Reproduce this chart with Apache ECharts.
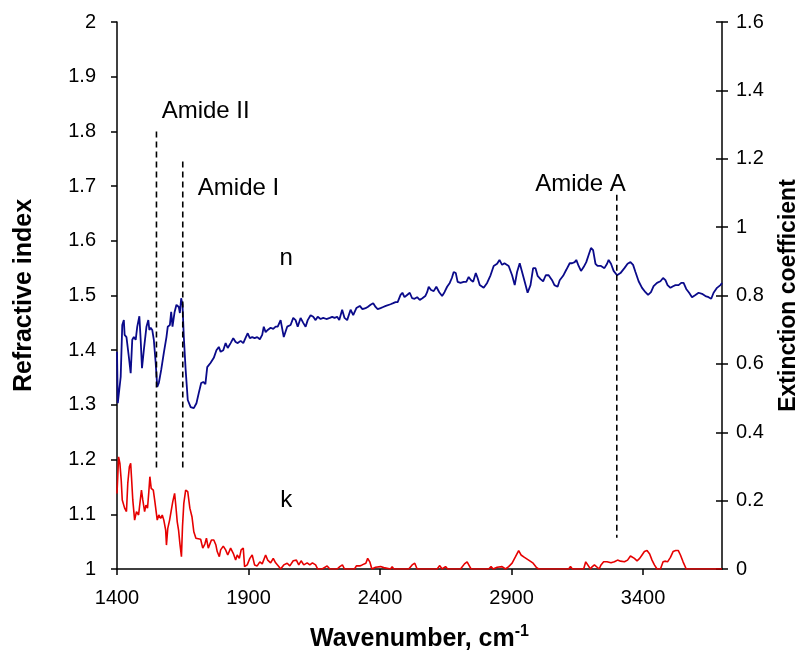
<!DOCTYPE html>
<html>
<head>
<meta charset="utf-8">
<script src="https://cdn.jsdelivr.net/npm/echarts@6/dist/echarts.min.js"></script>
<style>
html,body{margin:0;padding:0;background:#fff;}
#chart{width:802px;height:655px;}
</style>
</head>
<body>
<div id="chart"></div>
<script>
// Refractive index n vs wavenumber
const nWave = [1400,1403,1414,1420,1426,1429,1436,1445,1452,1458,1464,1471,1477,1485,1490,1495,1502,1512,1519,1523,1528,1534,1540,1547,1553,1559,1568,1578,1588,1593,1601,1606,1611,1619,1626,1635,1639,1644,1649,1654,1661,1669,1680,1692,1702,1711,1720,1728,1736,1743,1756,1768,1778,1787,
1794,1804,1813,1821,1832,1842,1851,1859,1870,1880,1890,1897,1905,1914,1923,1933,1943,1952,1958,1965,1973,1984,1994,2003,2011,
2022,2034,2047,2060,2070,2079,2087,2098,2108,2117,2125,2136,2146,2155,2163,2174,2184,2196,2209,2218,2227,2237,2245,2256,2265,2275,2288,2298,2310,2323,2333,2345,2353,2364,2374,2383,2391,2402,2412,2422,2429,2440,2450,2459,2467,2478,2485,2493,2503,2513,2522,2531,2541,2551,2561,2572,2579,2585,2594,2604,2614,2625,2636,2645,2655,2665,2673,2680,2688,2695,2706,2718,2728,2737,2746,2754,2764,2771,2779,
2794,2807,2820,2832,2845,2854,2864,2873,2880,2889,2902,2912,2921,2931,2940,2950,2961,2972,2982,2991,2999,3010,3020,3030,3041,3054,3063,3075,3083,3096,3108,3121,3130,3140,3146,3155,3164,3174,3184,3193,3202,3210,3219,3227,3240,3253,3263,3269,3278,3288,3301,3314,3329,3341,3352,3362,3371,3383,3396,3409,3419,3430,3440,3453,3466,3476,3485,3493,3504,3514,3523,3535,3545,3554,3564,3575,3586,3599,3611,3624,3637,3649,3659,3668,3681,3694,3700];
const nVal = [1.397,1.303,1.351,1.446,1.455,1.428,1.424,1.388,1.358,1.419,1.424,1.419,1.443,1.462,1.419,1.367,1.400,1.443,1.455,1.437,1.441,1.437,1.419,1.377,1.333,1.340,1.364,1.395,1.424,1.443,1.446,1.470,1.443,1.470,1.483,1.479,1.468,1.495,1.483,1.424,1.364,1.309,1.296,1.294,1.303,1.322,1.340,1.342,1.338,1.369,1.377,1.386,1.400,1.406,
1.397,1.400,1.413,1.404,1.413,1.422,1.415,1.413,1.417,1.413,1.424,1.431,1.422,1.424,1.422,1.424,1.420,1.428,1.443,1.433,1.437,1.441,1.439,1.443,1.443,
1.455,1.424,1.443,1.446,1.459,1.455,1.443,1.459,1.450,1.443,1.455,1.464,1.461,1.455,1.461,1.457,1.459,1.457,1.459,1.461,1.459,1.461,1.455,1.474,1.459,1.455,1.474,1.464,1.477,1.481,1.475,1.477,1.479,1.483,1.486,1.479,1.475,1.477,1.479,1.481,1.479,1.484,1.486,1.488,1.488,1.501,1.505,1.497,1.501,1.505,1.495,1.494,1.497,1.492,1.495,1.499,1.506,1.516,1.510,1.508,1.516,1.506,1.499,1.506,1.516,1.523,1.532,1.543,1.541,1.525,1.523,1.525,1.525,1.534,1.528,1.525,1.541,1.532,1.519,
1.514,1.523,1.537,1.554,1.558,1.565,1.556,1.559,1.561,1.554,1.537,1.519,1.543,1.559,1.543,1.525,1.505,1.519,1.550,1.550,1.536,1.530,1.526,1.537,1.537,1.528,1.519,1.516,1.528,1.536,1.547,1.559,1.559,1.561,1.565,1.554,1.545,1.552,1.561,1.574,1.587,1.583,1.558,1.554,1.554,1.550,1.558,1.565,1.558,1.545,1.537,1.541,1.550,1.558,1.561,1.556,1.543,1.526,1.514,1.506,1.501,1.506,1.517,1.523,1.526,1.532,1.528,1.519,1.514,1.517,1.519,1.519,1.523,1.523,1.512,1.505,1.497,1.501,1.505,1.503,1.499,1.497,1.494,1.505,1.514,1.519,1.523];

// Extinction coefficient k vs wavenumber
const kWave = [1400,1406,1411,1416,1420,1424,1429,1436,1441,1447,1452,1455,1460,1467,1474,1482,1487,1493,1498,1505,1510,1516,1521,1525,1530,1538,1544,1553,1559,1566,1572,1578,1585,1588,1593,1600,1606,1612,1619,1624,1629,1634,1639,1645,1649,1654,1661,1669,1677,1685,1692,1700,1707,1718,1726,1734,1740,1747,1753,1759,1768,1776,1781,1789,1794,
1804,1813,1821,1832,1842,1851,1857,1865,1872,1880,1885,1895,1905,1914,1923,1933,1943,1952,1965,1973,1984,1994,2003,2015,
2022,2034,2047,2057,2070,2082,2091,2100,2110,2123,2133,2143,2155,2163,2180,2199,2209,2237,2247,2257,2265,2303,2310,2323,2332,2338,2346,2353,2361,2369,2383,2402,2414,2440,2446,2452,2509,2522,2532,2541,2617,2627,2636,2649,2657,2706,2721,2731,2741,2746,2813,2822,2830,2845,2864,2877,2889,2902,2915,2927,2936,2949,2965,2982,2994,3003,3117,3124,3131,3174,3182,3189,3200,3207,3215,3222,3233,3240,3250,3263,3278,3291,3303,3314,3329,3341,3352,3359,3367,3377,3387,3396,3405,3415,3425,3434,3443,3453,3466,3476,3485,3493,3504,3514,3524,3534,3542,3552,3564,3700];
const kVal = [0.221,0.328,0.309,0.260,0.202,0.207,0.178,0.168,0.251,0.299,0.309,0.270,0.202,0.143,0.168,0.158,0.153,0.231,0.202,0.168,0.187,0.178,0.226,0.270,0.236,0.231,0.197,0.143,0.158,0.148,0.158,0.143,0.114,0.070,0.119,0.143,0.148,0.197,0.221,0.182,0.138,0.114,0.075,0.036,0.124,0.192,0.231,0.226,0.178,0.153,0.109,0.090,0.093,0.087,0.061,0.073,0.090,0.061,0.056,0.085,0.085,0.070,0.051,0.036,0.056,
0.067,0.056,0.041,0.061,0.046,0.026,0.041,0.031,0.056,0.061,0.007,0.012,0.031,0.041,0.012,0.009,0.021,0.015,0.041,0.026,0.018,0.031,0.018,0.007,
0,0.012,0.017,0.009,0.024,0.026,0.012,0.024,0.012,0.018,0.012,0.018,0.012,0,0,0.009,0,0,0.007,0.012,0,0,0.009,0.009,0.012,0.007,0.017,0.031,0.021,0,0.005,0.007,0.004,0,0.007,0,0,0.012,0.017,0,0,0.010,0,0.007,0,0,0.015,0.021,0.007,0,0,0.007,0,0.005,0.007,0,0.007,0.017,0.036,0.054,0.041,0.034,0.026,0.017,0.005,0,0,0.007,0,0,0.021,0.018,0,0.007,0.012,0.007,0,0.012,0.021,0.021,0.018,0.021,0.026,0.023,0.021,0.026,0.038,0.041,0.031,0.024,0.031,0.041,0.051,0.054,0.044,0.026,0.012,0,0,0.021,0.023,0.021,0.034,0.051,0.054,0.054,0.041,0.021,0,0];

// Amide band markers (dashed verticals, on refractive-index scale)
const amideX = [1550, 1650, 3300];
const amideTop = [1.8, 1.745, 1.684];
const amideBottom = [1.185, 1.185, 1.057];

// Annotations
const noteText = ['Amide II', 'Amide I', 'Amide A', 'n', 'k'];
const noteX = [1737, 1862, 3162, 2043, 2043];
const noteY = [1.836, 1.695, 1.703, 1.568, 1.125];

const xTicks = [1400, 1900, 2400, 2900, 3400];

const FONT = '"Liberation Sans", Arial, sans-serif';
const chart = echarts.init(document.getElementById('chart'));

const series = [
  {
    type: 'line', name: 'n', yAxisIndex: 0,
    data: nWave.map((w, i) => [w, nVal[i]]),
    showSymbol: false, symbol: 'none',
    lineStyle: { color: '#0a0a8a', width: 1.8 },
    z: 3
  },
  {
    type: 'line', name: 'k', yAxisIndex: 1,
    data: kWave.map((w, i) => [w, kVal[i]]),
    showSymbol: false, symbol: 'none',
    lineStyle: { color: '#e60000', width: 1.6 },
    z: 3
  }
];
amideX.forEach((x, i) => {
  series.push({
    type: 'line', yAxisIndex: 0,
    data: [[x, amideTop[i]], [x, amideBottom[i]]],
    showSymbol: false, symbol: 'none',
    lineStyle: { color: '#000', width: 1.6, type: [6, 4] },
    z: 4, silent: true
  });
});
series.push({
  type: 'scatter', yAxisIndex: 0,
  data: noteText.map((t, i) => ({ value: [noteX[i], noteY[i]], name: t })),
  symbolSize: 0,
  itemStyle: { opacity: 1 },
  label: {
    show: true, position: 'inside', opacity: 1,
    formatter: p => p.name,
    color: '#000', fontSize: 24, fontFamily: FONT
  },
  z: 5, silent: true
});

chart.setOption({
  animation: false,
  backgroundColor: '#fff',
  grid: { left: 117, right: 80, top: 22, bottom: 86, containLabel: false, outerBoundsMode: 'none' },
  xAxis: {
    type: 'value', min: 1400, max: 3700, interval: 500,
    name: '{a|Wavenumber, cm}{b|-1}',
    nameLocation: 'middle', nameGap: 55,
    nameTextStyle: {
      rich: {
        a: { fontSize: 25, fontWeight: 'bold', fontFamily: FONT, color: '#000' },
        b: { fontSize: 16, fontWeight: 'bold', fontFamily: FONT, color: '#000', verticalAlign: 'top', padding: [0, 0, 14, 0] }
      }
    },
    axisLine: { show: true, lineStyle: { color: '#000', width: 1.5 } },
    axisTick: { show: true, length: 6, lineStyle: { color: '#000', width: 1.5 } },
    axisLabel: {
      color: '#000', fontSize: 20, fontFamily: FONT, margin: 19,
      showMaxLabel: false,
      formatter: v => (xTicks.indexOf(v) >= 0 ? String(v) : '')
    },
    splitLine: { show: false }
  },
  yAxis: [
    {
      type: 'value', position: 'left', min: 1, max: 2, interval: 0.1,
      name: 'Refractive index', nameLocation: 'middle', nameGap: 80,
      nameTextStyle: { fontSize: 25, fontWeight: 'bold', fontFamily: FONT, color: '#000' },
      axisLine: { show: true, lineStyle: { color: '#000', width: 1.5 } },
      axisTick: { show: true, length: 6, lineStyle: { color: '#000', width: 1.5 } },
      axisLabel: { color: '#000', fontSize: 20, fontFamily: FONT, margin: 21 },
      splitLine: { show: false }
    },
    {
      type: 'value', position: 'right', min: 0, max: 1.6, interval: 0.2,
      name: 'Extinction coefficient', nameLocation: 'middle', nameGap: 55,
      nameRotate: 90,
      nameTextStyle: { fontSize: 23, fontWeight: 'bold', fontFamily: FONT, color: '#000' },
      axisLine: { show: true, lineStyle: { color: '#000', width: 1.5 } },
      axisTick: { show: true, length: 6, lineStyle: { color: '#000', width: 1.5 } },
      axisLabel: { color: '#000', fontSize: 20, fontFamily: FONT, margin: 14 },
      splitLine: { show: false }
    },
    {
      type: 'value', position: 'right', min: 0, max: 1.6, interval: 0.2,
      axisLine: { show: false },
      axisTick: { show: true, inside: true, length: 6, lineStyle: { color: '#000', width: 1.5 } },
      axisLabel: { show: false },
      splitLine: { show: false }
    }
  ],
  series: series
});
</script>
</body>
</html>
